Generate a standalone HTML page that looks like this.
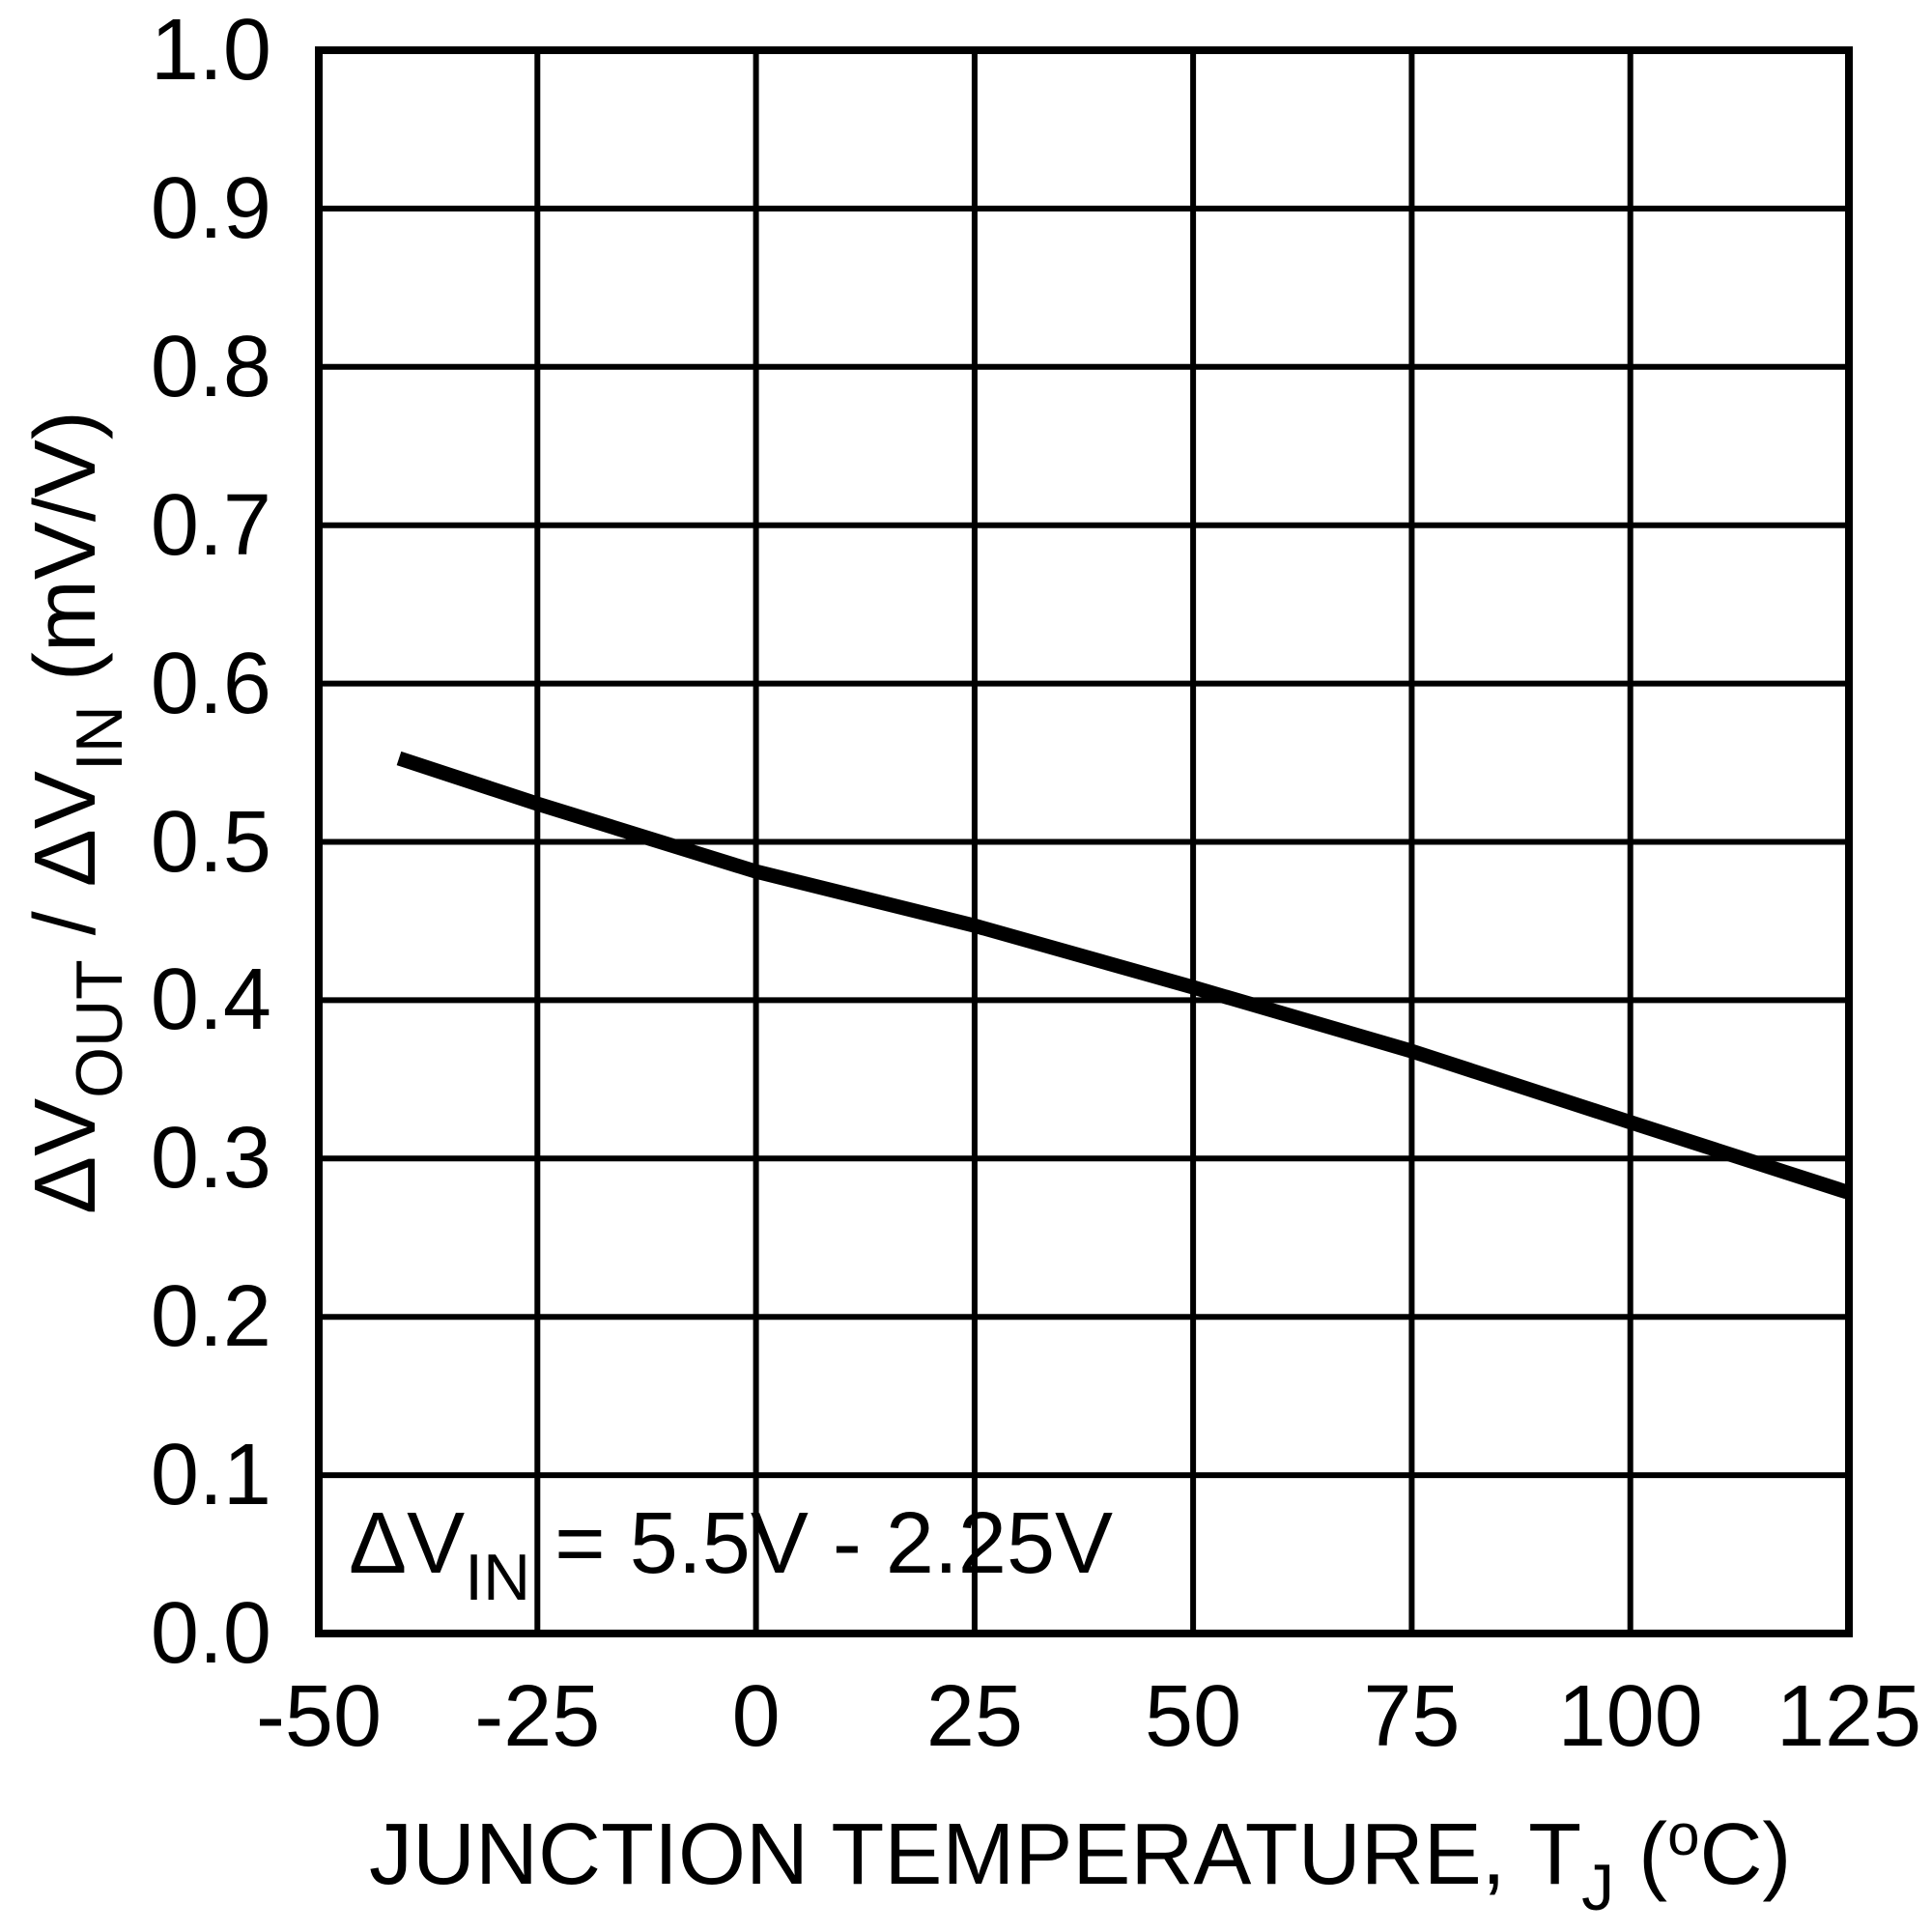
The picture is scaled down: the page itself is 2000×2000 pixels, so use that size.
<!DOCTYPE html>
<html>
<head>
<meta charset="utf-8">
<style>
  html, body { margin: 0; padding: 0; background: #ffffff; }
  svg { display: block; }
  text { font-family: "Liberation Sans", Arial, Helvetica, sans-serif; fill: #000; }
</style>
</head>
<body>
<svg width="2000" height="2000" viewBox="0 0 2000 2000" xmlns="http://www.w3.org/2000/svg">
  <rect x="0" y="0" width="2000" height="2000" fill="#ffffff"/>

  <!-- vertical grid lines -->
  <g stroke="#000" stroke-width="6">
    <line x1="556.3" y1="52" x2="556.3" y2="1691"/>
    <line x1="782.6" y1="52" x2="782.6" y2="1691"/>
    <line x1="1008.9" y1="52" x2="1008.9" y2="1691"/>
    <line x1="1235.1" y1="52" x2="1235.1" y2="1691"/>
    <line x1="1461.4" y1="52" x2="1461.4" y2="1691"/>
    <line x1="1687.7" y1="52" x2="1687.7" y2="1691"/>
  </g>
  <!-- horizontal grid lines -->
  <g stroke="#000" stroke-width="6">
    <line x1="330" y1="215.9" x2="1914" y2="215.9"/>
    <line x1="330" y1="379.8" x2="1914" y2="379.8"/>
    <line x1="330" y1="543.7" x2="1914" y2="543.7"/>
    <line x1="330" y1="707.6" x2="1914" y2="707.6"/>
    <line x1="330" y1="871.5" x2="1914" y2="871.5"/>
    <line x1="330" y1="1035.4" x2="1914" y2="1035.4"/>
    <line x1="330" y1="1199.3" x2="1914" y2="1199.3"/>
    <line x1="330" y1="1363.2" x2="1914" y2="1363.2"/>
    <line x1="330" y1="1527.1" x2="1914" y2="1527.1"/>
  </g>

  <!-- frame -->
  <rect x="330" y="52" width="1584" height="1639" fill="none" stroke="#000" stroke-width="8"/>

  <!-- data curve -->
  <polyline fill="none" stroke="#000" stroke-width="15" stroke-linejoin="round" stroke-linecap="butt"
    points="413,785 556,832 782,902 1008,958 1235,1022 1461,1088 1687,1161.5 1912,1234"/>

  <!-- y tick labels -->
  <g font-size="90" text-anchor="end">
    <text x="281" y="82">1.0</text>
    <text x="281" y="246">0.9</text>
    <text x="281" y="410">0.8</text>
    <text x="281" y="574">0.7</text>
    <text x="281" y="738">0.6</text>
    <text x="281" y="902">0.5</text>
    <text x="281" y="1065">0.4</text>
    <text x="281" y="1229">0.3</text>
    <text x="281" y="1393">0.2</text>
    <text x="281" y="1557">0.1</text>
    <text x="281" y="1721">0.0</text>
  </g>

  <!-- x tick labels -->
  <g font-size="90" text-anchor="middle">
    <text x="330" y="1807">-50</text>
    <text x="556.3" y="1807">-25</text>
    <text x="782.6" y="1807">0</text>
    <text x="1008.9" y="1807">25</text>
    <text x="1235.1" y="1807">50</text>
    <text x="1461.4" y="1807">75</text>
    <text x="1687.7" y="1807">100</text>
    <text x="1914" y="1807">125</text>
  </g>

  <!-- legend annotation -->
  <text x="361" y="1628" font-size="90">ΔV<tspan font-size="68" dy="28">IN</tspan><tspan dy="-28"> = 5.5V - 2.25V</tspan></text>

  <!-- x axis title -->
  <text x="382" y="1950" font-size="90">JUNCTION TEMPERATURE, T<tspan font-size="68" dy="27">J</tspan><tspan dy="-27"> (</tspan><tspan font-size="60" dy="-30">o</tspan><tspan dy="30">C)</tspan></text>

  <!-- y axis title -->
  <text transform="translate(98,1257) rotate(-90)" x="0" y="0" font-size="90">ΔV<tspan font-size="68" dy="28">OUT</tspan><tspan dy="-28"> / ΔV</tspan><tspan font-size="68" dy="28">IN</tspan><tspan dy="-28"> (mV/V)</tspan></text>
</svg>
</body>
</html>
